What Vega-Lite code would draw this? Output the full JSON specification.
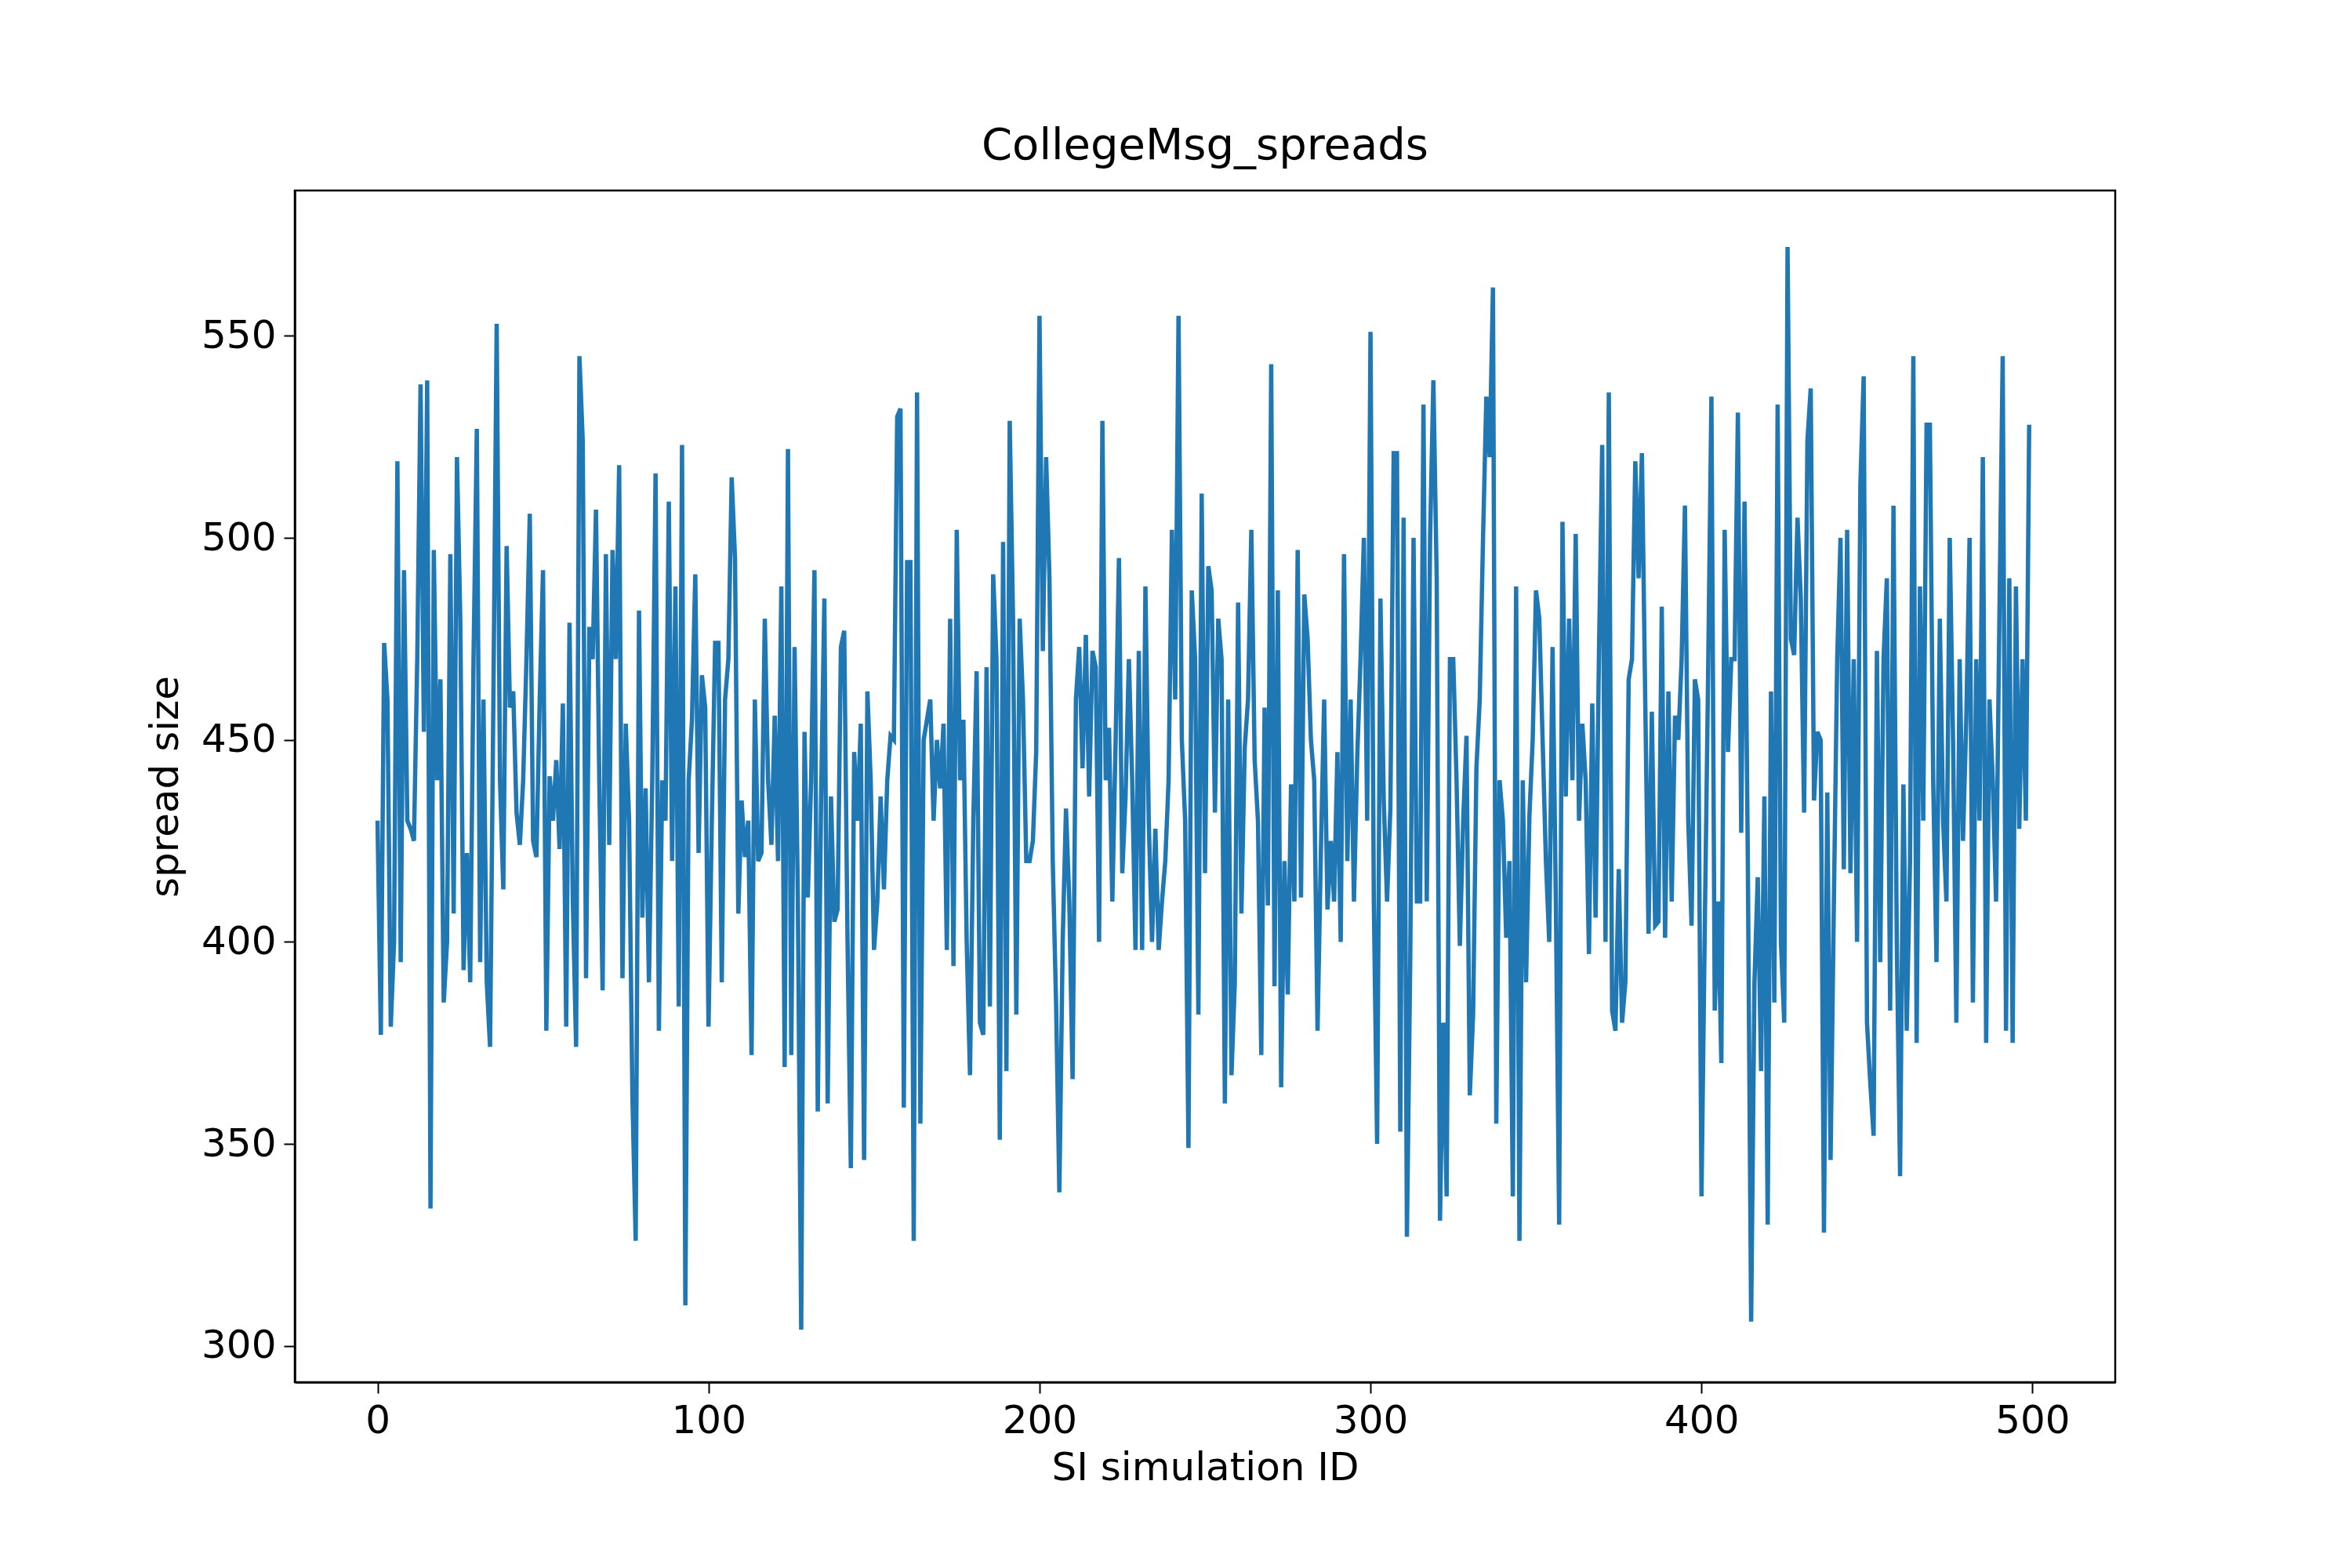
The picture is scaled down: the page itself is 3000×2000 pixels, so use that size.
{
"$schema":"https://vega.github.io/schema/vega-lite/v6.json",
"autosize":{"type":"none"},
"width":2322,"height":1520,
"padding":{"left":376,"top":243,"right":300,"bottom":237},
"background":"white",
"title":{"text":"CollegeMsg_spreads","font":"DejaVu Sans","fontSize":56,"fontWeight":"normal","color":"black","offset":28},
"config":{"view":{"stroke":"black","strokeWidth":2.5},"axis":{"labelFont":"DejaVu Sans","titleFont":"DejaVu Sans","labelFontSize":50,"titleFontSize":50,"titleFontWeight":"normal","labelColor":"black","titleColor":"black","domainColor":"black","tickColor":"black","tickSize":14,"tickWidth":2,"domainWidth":2.5,"grid":false,"labelPadding":10}},
"data":{"values":[
430,377,474,460,379,400,519,395,492,430,
428,425,470,538,452,539,334,497,440,465,
385,400,496,407,520,480,393,422,390,470,
527,395,460,390,374,460,553,440,413,498,
458,462,432,424,440,470,506,425,421,460,
492,378,441,430,445,423,459,379,479,410,
374,545,524,391,478,470,507,440,388,496,
424,497,470,518,391,454,430,362,326,482,
406,438,390,440,516,378,440,430,509,420,
488,384,523,310,440,455,491,422,466,458,
379,430,474,474,390,460,470,515,495,407,
435,421,430,372,460,420,422,480,440,424,
456,420,488,369,522,372,473,410,304,452,
411,440,492,358,435,485,360,436,405,408,
473,477,400,344,447,430,454,346,462,440,
398,410,436,413,440,451,450,530,532,359,
494,494,326,536,355,450,455,460,430,450,
438,454,398,480,394,502,440,455,400,367,
430,467,380,377,468,384,491,470,351,499,
368,529,480,382,480,460,420,420,425,447,
555,472,520,490,420,385,338,400,433,410,
366,460,473,443,476,436,472,468,400,529,
440,453,410,450,495,417,436,470,440,398,
472,398,488,430,400,428,398,410,420,440,
502,460,555,450,430,349,487,470,382,511,
417,493,487,432,480,470,360,460,367,390,
484,407,448,460,502,445,430,372,458,409,
543,389,487,364,420,387,439,410,497,411,
486,475,450,440,378,422,460,408,425,410,
447,400,496,420,460,410,446,470,500,430,
551,410,350,485,435,410,433,521,521,353,
505,327,395,500,410,410,533,410,500,539,
490,331,380,337,470,470,440,399,430,451,
362,382,443,460,500,535,520,562,355,440,
430,401,420,337,488,326,440,390,431,450,
487,480,450,420,400,473,410,330,504,436,
480,440,501,430,454,440,397,459,406,470,
523,400,536,383,378,418,380,390,465,470,
519,490,521,460,402,457,404,405,483,401,
462,410,456,450,470,508,430,404,465,460,
337,404,466,535,383,410,370,502,447,470,
470,531,427,509,420,306,390,416,368,436,
330,462,385,533,400,380,572,475,471,505,
485,432,524,537,435,452,450,328,437,346,
410,470,500,418,502,417,470,400,513,540,
380,365,352,472,395,470,490,383,508,400,
342,439,378,420,545,375,488,430,528,528,
440,395,480,430,410,500,450,380,470,425,
455,500,385,470,430,520,375,460,440,410,
480,545,378,490,375,488,428,470,430,528
]},
"transform":[{"window":[{"op":"row_number","as":"rn"}]},{"calculate":"datum.rn-1","as":"id"}],
"mark":{"type":"line","color":"#1f77b4","strokeWidth":5.5,"clip":true},
"encoding":{
"x":{"field":"id","type":"quantitative","title":"SI simulation ID","scale":{"domain":[-25,525],"nice":false,"zero":false},"axis":{"values":[0,100,200,300,400,500],"titlePadding":10}},
"y":{"field":"data","type":"quantitative","title":"spread size","scale":{"domain":[291,586],"nice":false,"zero":false},"axis":{"values":[300,350,400,450,500,550],"titlePadding":20}}
}
}
